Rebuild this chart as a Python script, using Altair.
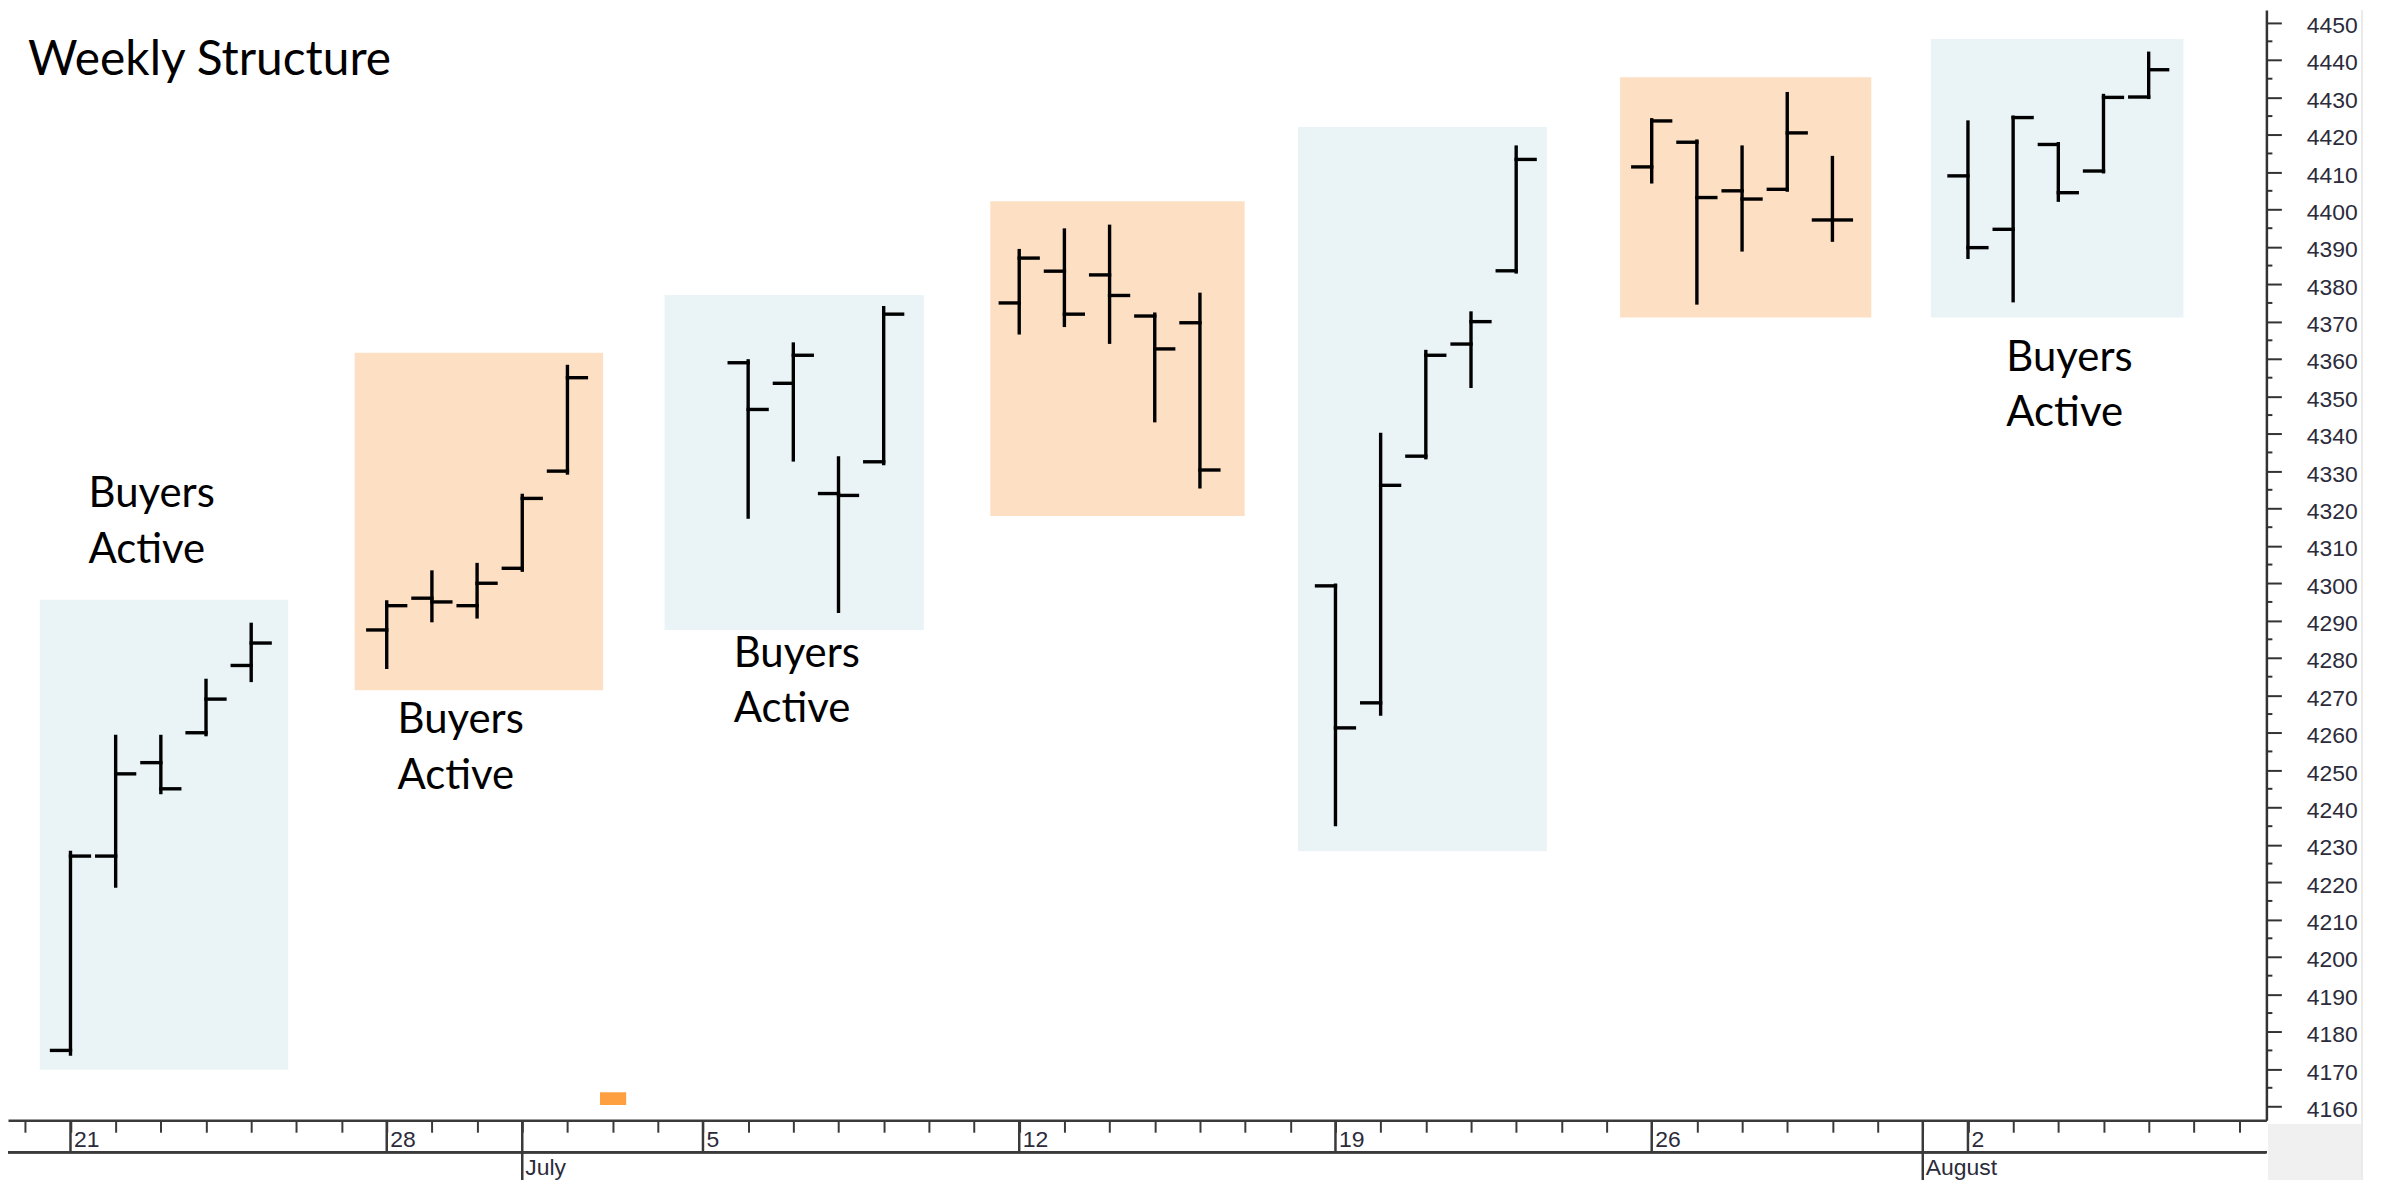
import altair as alt
import pandas as pd

# ---------------- data ----------------
dates = ["2021-06-21", "2021-06-22", "2021-06-23", "2021-06-24", "2021-06-25",
         "2021-06-28", "2021-06-29", "2021-06-30", "2021-07-01", "2021-07-02",
         "2021-07-06", "2021-07-07", "2021-07-08", "2021-07-09",
         "2021-07-12", "2021-07-13", "2021-07-14", "2021-07-15", "2021-07-16",
         "2021-07-19", "2021-07-20", "2021-07-21", "2021-07-22", "2021-07-23",
         "2021-07-26", "2021-07-27", "2021-07-28", "2021-07-29", "2021-07-30",
         "2021-08-02", "2021-08-03", "2021-08-04", "2021-08-05", "2021-08-06"]
opens = [4175, 4227, 4252, 4260, 4278,
         4287.5, 4296, 4294, 4304, 4330,
         4359, 4353.5, 4324, 4332.5,
         4375, 4383.5, 4382.5, 4371.5, 4369.7,
         4299.3, 4268, 4334, 4364, 4383.6,
         4411.4, 4418, 4405, 4405.4, 4397.2,
         4409, 4394.7, 4417.4, 4410.3, 4430.1]
highs = [4228, 4259, 4259, 4274, 4289,
         4295, 4303, 4305, 4323.5, 4358,
         4359.5, 4364, 4333.5, 4373.7,
         4389, 4394.5, 4395.5, 4372, 4377.3,
         4299.5, 4339.8, 4362, 4372.3, 4416.7,
         4424, 4418.3, 4416.7, 4431, 4413.9,
         4423.4, 4424.7, 4417.6, 4430.5, 4441.8]
lows = [4174, 4219, 4244, 4259.5, 4274,
        4277.5, 4290, 4291, 4303.5, 4329.5,
        4317.7, 4333, 4292.5, 4332,
        4367, 4369, 4364.5, 4343.5, 4325.8,
        4235.4, 4265, 4333.6, 4352.7, 4383.3,
        4407.4, 4375, 4389.2, 4405.2, 4391.8,
        4387.2, 4375.6, 4402.5, 4410.1, 4430]
closes = [4227, 4249, 4245, 4269, 4284,
          4294, 4295, 4300, 4322.7, 4355,
          4346.5, 4361, 4323.5, 4372,
          4387, 4372, 4377, 4362.7, 4330.3,
          4261.3, 4326.2, 4361, 4370, 4413.4,
          4423.7, 4403.2, 4402.8, 4420.5, 4397.2,
          4389.8, 4424.6, 4404.5, 4430, 4437.4]

# weekly highlight boxes (in days from 21 June, price levels)
box_start = [-0.68, 6.29, 13.15, 20.36, 27.17, 34.30, 41.18]
box_end = [4.82, 11.79, 18.89, 25.99, 32.68, 39.86, 46.77]
box_top = [4295.6, 4361.7, 4377.1, 4402.2, 4422.1, 4435.4, 4445.6]
box_bottom = [4169.8, 4271.4, 4287.5, 4318.0, 4228.3, 4371.1, 4371.1]
box_kind = ["blue", "orange", "blue", "orange", "blue", "orange", "blue"]

# small orange marker near the bottom
marker_x = [11.72, 12.30]
marker_y = [4160.4, 4163.8]

# annotations
title_text = ["Weekly Structure"]
title_x = [-0.94]
title_y = [4436.0]
note_text = ["Buyers\nActive", "Buyers\nActive", "Buyers\nActive", "Buyers\nActive"]
note_x = [0.40, 7.24, 14.68, 42.85]
note_y = [4320.3, 4259.9, 4277.7, 4356.9]

# date axis
start_date = "2021-06-21"
week_start_dates = ["2021-06-21", "2021-06-28", "2021-07-05", "2021-07-12",
                    "2021-07-19", "2021-07-26", "2021-08-02"]
week_labels = ["21", "28", "5", "12", "19", "26", "2"]
month_dates = ["2021-07-01", "2021-08-01"]
month_labels = ["July", "August"]

y_major = list(range(4160, 4451, 10))
y_minor = list(range(4165, 4451, 10))

# ---------------- tables ----------------
t0 = pd.Timestamp(start_date)


def day(s):
    return (pd.Timestamp(s) - t0).days


ohlc = pd.DataFrame({"date": dates, "open": opens, "high": highs,
                     "low": lows, "close": closes})
ohlc["d"] = [day(s) for s in dates]

boxes = pd.DataFrame({"x1": box_start, "x2": box_end, "y1": box_top,
                      "y2": box_bottom, "kind": box_kind})
marker = pd.DataFrame({"x1": [marker_x[0]], "x2": [marker_x[1]],
                       "y1": [marker_y[0]], "y2": [marker_y[1]]})
titles = pd.DataFrame({"x": title_x, "y": title_y, "text": title_text})
notes = pd.DataFrame({"x": note_x, "y": note_y, "text": note_text})
weeks = pd.DataFrame({"d": [day(s) for s in week_start_dates], "label": week_labels})
months = pd.DataFrame({"d": [day(s) for s in month_dates], "label": month_labels})
minor = pd.DataFrame({"v": y_minor})

# ---------------- scales / axes ----------------
W, H = 2266, 1114
BOTTOM = 60
xs = alt.Scale(domain=[-1.383, 48.606], nice=False, zero=False)
ys = alt.Scale(domain=[4156.32, 4453.39], nice=False, zero=False)

label_expr = "".join(f"datum.value == {d} ? '{l}' : " for d, l in zip(weeks["d"], week_labels)) + "''"

x_axis = alt.Axis(values=list(range(-1, 49)), labelExpr=label_expr, orient="bottom",
                  tickSize=12, tickWidth=2, tickColor="#3a3a3a",
                  domainColor="#3a3a3a", domainWidth=2.5,
                  labelFont="Liberation Sans", labelFontSize=23, labelColor="#2b2b3b",
                  labelAlign="left", labelBaseline="top", labelOffset=3,
                  labelPadding=-4, labelOverlap=False, labelFlush=False,
                  grid=False, title=None)
y_axis = alt.Axis(values=y_major, format="d", orient="right", tickSize=15, tickWidth=2,
                  tickColor="#333333", domainColor="#333333", domainWidth=2.5,
                  labelFont="Liberation Sans", labelFontSize=23, labelColor="#2b2b3b",
                  labelPadding=25, labelOffset=3, labelOverlap=False, labelFlush=False,
                  grid=False, title=None)


def X(field):
    return alt.X(field, scale=xs, axis=x_axis)


def Y(field):
    return alt.Y(field, scale=ys, axis=y_axis)


BLUE = "#EAF4F7"
ORANGE = "#FDDFC3"

box_layer = alt.Chart(boxes).mark_rect().encode(
    x=X("x1:Q"), x2="x2:Q", y=Y("y1:Q"), y2="y2:Q",
    color=alt.Color("kind:N", scale=alt.Scale(domain=["blue", "orange"], range=[BLUE, ORANGE]),
                    legend=None),
)

marker_layer = alt.Chart(marker).mark_rect(color="#FFA040").encode(
    x=X("x1:Q"), x2="x2:Q", y=Y("y1:Q"), y2="y2:Q",
)

LW = 3.4
TL = 19
wick = alt.Chart(ohlc).mark_rule(color="black", strokeWidth=LW, strokeCap="square").encode(
    x=X("d:Q"), y=Y("low:Q"), y2="high:Q",
)
open_tick = alt.Chart(ohlc).mark_rule(color="black", strokeWidth=LW, strokeCap="square",
                                      xOffset=-TL, x2Offset=0).encode(
    x=X("d:Q"), x2="d:Q", y=Y("open:Q"),
)
close_tick = alt.Chart(ohlc).mark_rule(color="black", strokeWidth=LW, strokeCap="square",
                                       xOffset=0, x2Offset=TL).encode(
    x=X("d:Q"), x2="d:Q", y=Y("close:Q"),
)

title_layer = alt.Chart(titles).mark_text(font="Lato", fontSize=48, align="left",
                                          baseline="alphabetic", color="black").encode(
    x=X("x:Q"), y=Y("y:Q"), text="text:N")

note_layer = alt.Chart(notes).mark_text(font="Lato", fontSize=42, align="left",
                                        baseline="alphabetic", color="black",
                                        lineBreak="\n", lineHeight=56).encode(
    x=X("x:Q"), y=Y("y:Q"), text="text:N")

# date-axis decorations
AX = "#3a3a3a"
week_lines = alt.Chart(weeks).mark_rule(color=AX, strokeWidth=2.5).encode(
    x=X("d:Q"), y=alt.value(H), y2=alt.value(H + 32))
month_lines = alt.Chart(months).mark_rule(color=AX, strokeWidth=2.5).encode(
    x=X("d:Q"), y=alt.value(H), y2=alt.value(H + BOTTOM))
month_text = alt.Chart(months).mark_text(font="Liberation Sans", fontSize=23, align="left",
                                         baseline="alphabetic", dx=3, color="#2b2b3b").encode(
    x=X("d:Q"), y=alt.value(H + 55), text="label:N")
row_line = alt.Chart(weeks).mark_rule(color=AX, strokeWidth=2.5).encode(
    x=alt.value(0), x2=alt.value(W), y=alt.value(H + 32))
gray_box = alt.Chart(weeks).mark_rect(color="#F0F0F0").encode(
    x=alt.value(W + 2), x2=alt.value(W + 96), y=alt.value(H + 4), y2=alt.value(H + BOTTOM))
side_line = alt.Chart(weeks).mark_rule(color="#EBEBEB", strokeWidth=1.5).encode(
    x=alt.value(W + 96), y=alt.value(0), y2=alt.value(H + BOTTOM))
minor_ticks = alt.Chart(minor).mark_rule(color="#333333", strokeWidth=2).encode(
    y=Y("v:Q"), x=alt.value(W), x2=alt.value(W + 6))

chart = alt.layer(
    box_layer, marker_layer, wick, open_tick, close_tick,
    title_layer, note_layer,
    gray_box, side_line, week_lines, month_lines, month_text, row_line, minor_ticks,
).properties(
    width=W, height=H,
    autosize=alt.AutoSizeParams(type="none"),
    padding={"left": 0, "top": 0, "right": 120, "bottom": BOTTOM},
    background="white",
).configure_view(stroke=None)

chart.save("out.html", embed_options={"renderer": "svg", "actions": False})
